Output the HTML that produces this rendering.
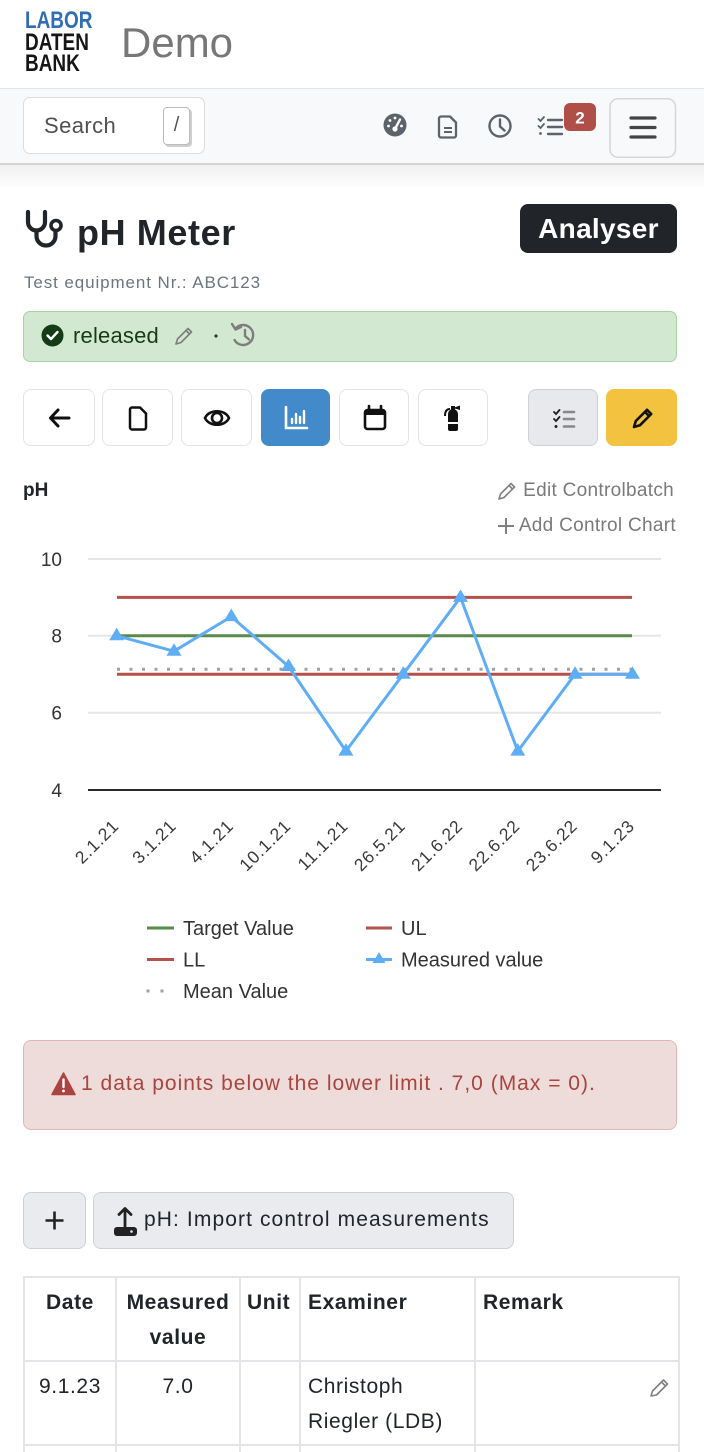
<!DOCTYPE html>
<html><head><meta charset="utf-8">
<style>
*{box-sizing:border-box;margin:0;padding:0}
html,body{width:704px;height:1452px;overflow:hidden;background:#fff;font-family:"Liberation Sans",Arial,sans-serif;color:#212529}
#wrap{position:relative;width:704px;height:1452px;overflow:hidden}
.a{position:absolute;white-space:nowrap}
.btn{position:absolute;top:389px;height:57px;border:1.5px solid #e2e3e5;border-radius:8px;background:#fff}
.btn svg{position:absolute;left:0;top:0}
td{border:2px solid #e3e5e8;vertical-align:top;font-size:21px;line-height:34.5px;padding:8px 7px 0 7px;letter-spacing:0.6px}
</style></head><body><div id="wrap">

<!-- header -->
<div class="a" style="left:25px;top:10px;font-weight:bold;font-size:24px;line-height:21.5px;transform:scaleX(0.79);transform-origin:0 0;">
<div style="color:#2f6db5">LABOR</div><div style="color:#161616">DATEN</div><div style="color:#161616">BANK</div></div>
<div class="a" style="left:121px;top:22px;font-size:42px;line-height:42px;color:#777">Demo</div>

<!-- navbar -->
<div class="a" style="left:0;top:88px;width:704px;height:77px;background:#f8f9fa;border-top:1px solid #e4e4e4;border-bottom:2px solid #d4d4d4"></div>
<div class="a" style="left:0;top:165px;width:704px;height:24px;background:linear-gradient(rgba(0,0,0,0.06),rgba(0,0,0,0))"></div>
<div class="a" style="left:23px;top:97px;width:182px;height:57px;background:#fff;border:1.5px solid #dcdcdc;border-radius:7px"></div>
<div class="a" style="left:44px;top:111px;font-size:22px;line-height:29px;color:#505050;letter-spacing:0.4px">Search</div>
<div class="a" style="left:163px;top:107px;width:27px;height:38px;border:1.5px solid #bdbdbd;border-radius:4px;box-shadow:2px 2px 0 #cfcfcf;background:#fff;font-size:20px;line-height:35px;text-align:center;color:#555">/</div>

<svg class="a" style="left:0;top:0" width="704" height="170" viewBox="0 0 704 170">
 <circle cx="395" cy="125" r="11.5" fill="#5c636b"/>
 <circle cx="395" cy="129" r="2.6" fill="#fff"/>
 <line x1="395" y1="129" x2="400" y2="119.5" stroke="#fff" stroke-width="2.4" stroke-linecap="round"/>
 <circle cx="388.5" cy="126" r="1.4" fill="#fff"/><circle cx="390" cy="120.5" r="1.4" fill="#fff"/><circle cx="395" cy="118" r="1.4" fill="#fff"/><circle cx="401.5" cy="126" r="1.4" fill="#fff"/>
 <path d="M441 116.5 h9 l6 6 v13 a2 2 0 0 1 -2 2 h-13 a2 2 0 0 1 -2 -2 v-17 a2 2 0 0 1 2 -2z" fill="none" stroke="#5c636b" stroke-width="2.3" stroke-linejoin="round"/>
 <line x1="444" y1="128" x2="452" y2="128" stroke="#5c636b" stroke-width="2"/><line x1="444" y1="132" x2="452" y2="132" stroke="#5c636b" stroke-width="2"/>
 <circle cx="500" cy="126" r="10.5" fill="none" stroke="#5c636b" stroke-width="2.4"/>
 <path d="M500 119.5 V126.5 L504.5 130.5" fill="none" stroke="#5c636b" stroke-width="2.4" stroke-linecap="round"/>
 <path d="M538.5 119 l2 2 l3.5 -4 M538.5 126 l2 2 l3.5 -4" fill="none" stroke="#5c636b" stroke-width="1.8" stroke-linecap="round"/>
 <circle cx="540.5" cy="133.5" r="1.4" fill="#5c636b"/>
 <path d="M548 120 H562 M548 127 H562 M548 134 H562" stroke="#5c636b" stroke-width="2.4" stroke-linecap="round"/>
 <rect x="564" y="103" width="32" height="28" rx="6" fill="#b04f48"/>
 <text x="580" y="123.5" font-size="17" font-weight="bold" fill="#fff" text-anchor="middle" font-family="Liberation Sans">2</text>
 <rect x="610" y="98.75" width="65.5" height="58.5" rx="8" fill="#f8f9fa" stroke="#d6d6d6" stroke-width="1.5"/>
 <path d="M631 118 H655 M631 127.5 H655 M631 137 H655" stroke="#444" stroke-width="3.2" stroke-linecap="round"/>
</svg>

<!-- title -->
<svg class="a" style="left:0;top:200px" width="80" height="60" viewBox="0 200 80 60">
 <path d="M28 212 V222 a8.5 8.5 0 0 0 17 0 V212" fill="none" stroke="#212529" stroke-width="4.2" stroke-linecap="round"/>
 <path d="M36.5 231 V236 a9.5 9.5 0 0 0 19 0 V232" fill="none" stroke="#212529" stroke-width="4.2" stroke-linecap="round"/>
 <circle cx="56" cy="225.5" r="5" fill="none" stroke="#212529" stroke-width="3.6"/>
</svg>
<div class="a" style="left:77px;top:215px;font-size:36px;line-height:36px;font-weight:bold;letter-spacing:0.6px;color:#212529">pH Meter</div>
<div class="a" style="left:520px;top:204px;width:157px;height:49px;background:#212529;border-radius:8px;color:#fff;font-weight:bold;font-size:28px;line-height:49px;text-align:center;letter-spacing:0.3px">Analyser</div>
<div class="a" style="left:24px;top:271px;font-size:17px;line-height:24px;color:#6c757d;letter-spacing:0.9px">Test equipment Nr.: ABC123</div>

<!-- released -->
<div class="a" style="left:23px;top:311px;width:654px;height:51px;background:#d3e8d0;border:1.5px solid #a8d2a2;border-radius:7px"></div>
<svg class="a" style="left:0;top:315px" width="280" height="42" viewBox="0 315 280 42">
 <circle cx="52.5" cy="335.5" r="11" fill="#143d17"/>
 <path d="M47.5 335.5 l3.5 3.5 l6.5 -7" fill="none" stroke="#fff" stroke-width="2.4" stroke-linecap="round" stroke-linejoin="round"/>
 <g transform="translate(175,327)" fill="none" stroke="#7d7d7d" stroke-width="1.6" stroke-linejoin="round"><path d="M1 17 L2.5 12 L13 1.5 L16.5 5 L6 15.5 Z M11 3.5 L14.5 7"/></g>
 <circle cx="216" cy="336" r="1.6" fill="#333"/>
 <path d="M236 328 A10 10 0 1 1 234.5 340" fill="none" stroke="#7d7d7d" stroke-width="2.4" stroke-linecap="round"/>
 <path d="M232 324 L235.5 329.5 L241 327" fill="none" stroke="#7d7d7d" stroke-width="2.4" stroke-linecap="round" stroke-linejoin="round"/>
 <path d="M245 330 V336 L249 339.5" fill="none" stroke="#7d7d7d" stroke-width="2.4" stroke-linecap="round"/>
</svg>
<div class="a" style="left:73px;top:322px;font-size:22px;line-height:28px;color:#173b19;letter-spacing:0.2px">released</div>

<!-- button row -->
<div class="btn" style="left:23px;width:72px"><svg width="72" height="57"><path d="M27 28 H45 M34 20 L26.5 28 L34 36" fill="none" stroke="#111" stroke-width="3" stroke-linecap="round" stroke-linejoin="round"/></svg></div>
<div class="btn" style="left:102px;width:71px"><svg width="71" height="57"><path d="M29 17.5 h8 l6 6 v14 a2 2 0 0 1 -2 2 h-12 a2 2 0 0 1 -2 -2 v-18 a2 2 0 0 1 2 -2z" fill="none" stroke="#111" stroke-width="2.5" stroke-linejoin="round"/></svg></div>
<div class="btn" style="left:181px;width:71px"><svg width="71" height="57"><path d="M23 28 C27 19 43 19 47 28 C43 37 27 37 23 28Z" fill="none" stroke="#111" stroke-width="2.6"/><circle cx="35" cy="28" r="5" fill="none" stroke="#111" stroke-width="2.6"/></svg></div>
<div class="btn" style="left:261px;width:69px;background:#428ac9;border-color:#428ac9"><svg width="69" height="57"><path d="M24 17 V38 H45" fill="none" stroke="#fff" stroke-width="2.6" stroke-linecap="round"/><path d="M30 33 V29 M34 33 V24 M38 33 V27 M42 33 V21" stroke="#fff" stroke-width="2.4" stroke-linecap="round"/></svg></div>
<div class="btn" style="left:339px;width:70px"><svg width="70" height="57"><rect x="25" y="20" width="20" height="19" rx="2.5" fill="none" stroke="#111" stroke-width="2.6"/><rect x="25" y="20" width="20" height="5" fill="#111"/><path d="M29 16 V21 M41 16 V21" stroke="#111" stroke-width="2.6" stroke-linecap="round"/></svg></div>
<div class="btn" style="left:418px;width:70px"><svg width="70" height="57"><path d="M29 24 a5 5 0 0 1 10 0 V39 a2 2 0 0 1 -2 2 h-6 a2 2 0 0 1 -2 -2Z" fill="#111"/><rect x="32" y="16" width="4" height="4" fill="#111"/><path d="M34 18 L41 15.5 V20 L34 18" fill="#111"/><path d="M31 19 C27 19 26 22 26 26" fill="none" stroke="#111" stroke-width="2"/><rect x="28" y="32" width="12" height="2" fill="#fff"/></svg></div>
<div class="btn" style="left:528px;width:70px;background:#e8e9ec;border-color:#cfd1d4"><svg width="70" height="57"><path d="M25 22 l2 2 l3.5 -4 M25 29 l2 2 l3.5 -4" fill="none" stroke="#222" stroke-width="1.9" stroke-linecap="round"/><circle cx="27" cy="36.5" r="1.5" fill="#222"/><path d="M35 22 H45 M35 29 H45 M35 36.5 H45" stroke="#888" stroke-width="2.6" stroke-linecap="round"/></svg></div>
<div class="btn" style="left:606px;width:71px;background:#f3c23e;border-color:#f3c23e"><svg width="71" height="57"><g transform="translate(26,18)" fill="none" stroke="#111" stroke-width="2.6" stroke-linejoin="round"><path d="M1 19 L2.8 13 L14 1.8 L18.2 6 L7 17.2 Z M12 4 L16 8"/></g></svg></div>

<!-- chart header -->
<div class="a" style="left:23px;top:478px;font-size:19px;line-height:26px;font-weight:bold;color:#212529">pH</div>
<svg class="a" style="left:494px;top:478px" width="30" height="60" viewBox="494 478 30 60">
 <g transform="translate(498,482)" fill="none" stroke="#808080" stroke-width="1.6" stroke-linejoin="round"><path d="M1 17 L2.5 12 L13 1.5 L16.5 5 L6 15.5 Z M11 3.5 L14.5 7"/></g>
 <path d="M506 518 V534 M498 526 H514" stroke="#808080" stroke-width="2" />
</svg>
<div class="a" style="left:521px;top:478px;width:153px;text-align:right;font-size:19px;line-height:26px;color:#7a7a7a;letter-spacing:0.3px">Edit Controlbatch</div>
<div class="a" style="left:516px;top:513px;width:160px;text-align:right;font-size:19px;line-height:26px;color:#7a7a7a;letter-spacing:0.3px">Add Control Chart</div>

<!-- chart -->
<svg class="a" style="left:0;top:540px" width="704" height="470" viewBox="0 540 704 470" font-family="Liberation Sans, Arial, sans-serif">
 <g stroke="#e6e6e6" stroke-width="2">
  <line x1="88" y1="559" x2="661" y2="559"/>
  <line x1="88" y1="635.8" x2="661" y2="635.8"/>
  <line x1="88" y1="712.7" x2="661" y2="712.7"/>
 </g>
 <line x1="88" y1="790" x2="661" y2="790" stroke="#2a2a2a" stroke-width="2"/>
 <g font-size="19" fill="#333" text-anchor="end">
  <text x="62" y="566">10</text><text x="62" y="642.6">8</text><text x="62" y="719.5">6</text><text x="62" y="797">4</text>
 </g>
 <line x1="117" y1="635.8" x2="632" y2="635.8" stroke="#5a8a49" stroke-width="3"/>
 <line x1="117" y1="597.4" x2="632" y2="597.4" stroke="#b3514a" stroke-width="3"/>
 <line x1="117" y1="674.2" x2="632" y2="674.2" stroke="#b3514a" stroke-width="3"/>
 <line x1="117" y1="669.2" x2="632" y2="669.2" stroke="#a0a0a0" stroke-width="3" stroke-dasharray="3 9.5"/>
 <polyline fill="none" stroke="#5eadf6" stroke-width="3" stroke-linejoin="round" points="116.7,635.8 174,651.2 231.3,616.6 288.6,666.5 345.9,751.1 403.2,674.2 460.5,597.4 517.8,751.1 575.1,674.2 632.4,674.2"/>
 <g fill="#5eadf6">
  <path d="M116.7 627.8 l7.5 12.5 h-15z"/>
  <path d="M174 643.2 l7.5 12.5 h-15z"/>
  <path d="M231.3 608.6 l7.5 12.5 h-15z"/>
  <path d="M288.6 658.5 l7.5 12.5 h-15z"/>
  <path d="M345.9 743.1 l7.5 12.5 h-15z"/>
  <path d="M403.2 666.2 l7.5 12.5 h-15z"/>
  <path d="M460.5 589.4 l7.5 12.5 h-15z"/>
  <path d="M517.8 743.1 l7.5 12.5 h-15z"/>
  <path d="M575.1 666.2 l7.5 12.5 h-15z"/>
  <path d="M632.4 666.2 l7.5 12.5 h-15z"/>
 </g>
 <g font-size="17.5" fill="#3a3a3a" text-anchor="end" letter-spacing="0.8">
  <text transform="translate(120,827) rotate(-45)">2.1.21</text>
  <text transform="translate(177.3,827) rotate(-45)">3.1.21</text>
  <text transform="translate(234.6,827) rotate(-45)">4.1.21</text>
  <text transform="translate(291.9,827) rotate(-45)">10.1.21</text>
  <text transform="translate(349.2,827) rotate(-45)">11.1.21</text>
  <text transform="translate(406.5,827) rotate(-45)">26.5.21</text>
  <text transform="translate(463.8,827) rotate(-45)">21.6.22</text>
  <text transform="translate(521.1,827) rotate(-45)">22.6.22</text>
  <text transform="translate(578.4,827) rotate(-45)">23.6.22</text>
  <text transform="translate(635.7,827) rotate(-45)">9.1.23</text>
 </g>
 <line x1="147" y1="928" x2="174" y2="928" stroke="#5a8a49" stroke-width="3"/>
 <line x1="147" y1="959.5" x2="174" y2="959.5" stroke="#b3514a" stroke-width="3"/>
 <rect x="146.5" y="989.5" width="3" height="3" fill="#a0a0a0"/><rect x="160.5" y="989.5" width="3" height="3" fill="#a0a0a0"/>
 <line x1="366" y1="928" x2="392" y2="928" stroke="#b3514a" stroke-width="3"/>
 <line x1="366" y1="959.5" x2="392" y2="959.5" stroke="#5eadf6" stroke-width="3"/>
 <path d="M379 952 l6.5 11 h-13z" fill="#5eadf6"/>
 <g font-size="20" fill="#333">
  <text x="183" y="935">Target Value</text>
  <text x="183" y="966.5">LL</text>
  <text x="183" y="998">Mean Value</text>
  <text x="401" y="935">UL</text>
  <text x="401" y="966.5">Measured value</text>
 </g>
</svg>

<!-- red alert -->
<div class="a" style="left:23px;top:1040px;width:654px;height:90px;background:#eedcdb;border:1.5px solid #e3b6b3;border-radius:8px"></div>
<svg class="a" style="left:50px;top:1070px" width="28" height="28" viewBox="50 1070 28 28">
 <path d="M63.5 1073 L75 1094.5 H52 Z" fill="#a9443e" stroke="#a9443e" stroke-width="1.5" stroke-linejoin="round"/>
 <path d="M63.5 1079.5 V1087" stroke="#fff" stroke-width="2.4" stroke-linecap="round"/><circle cx="63.5" cy="1091" r="1.4" fill="#fff"/>
</svg>
<div class="a" style="left:81px;top:1070px;font-size:21px;line-height:28px;color:#a9443e;letter-spacing:1px">1 data points below the lower limit . 7,0 (Max = 0).</div>

<!-- action buttons -->
<div class="a" style="left:23px;top:1192px;width:63px;height:57px;background:#e9ebee;border:1.5px solid #cdd0d4;border-radius:8px"></div>
<svg class="a" style="left:23px;top:1192px" width="63" height="57"><path d="M31.5 19.5 V37.5 M22.5 28.5 H40.5" stroke="#222" stroke-width="2.6"/></svg>
<div class="a" style="left:93px;top:1192px;width:421px;height:57px;background:#e9ebee;border:1.5px solid #cdd0d4;border-radius:8px"></div>
<svg class="a" style="left:110px;top:1200px" width="32" height="40" viewBox="110 1200 32 40">
 <path d="M125 1227 V1209 M119 1214.5 L125 1208.5 L131 1214.5" fill="none" stroke="#222" stroke-width="2.8" stroke-linecap="round" stroke-linejoin="round"/>
 <rect x="114" y="1227" width="23" height="9" rx="3" fill="#222"/>
 <circle cx="131.5" cy="1231.5" r="1.3" fill="#e9ebee"/>
</svg>
<div class="a" style="left:144px;top:1206px;font-size:21px;line-height:28px;color:#212529;letter-spacing:1.1px">pH: Import control measurements</div>

<!-- table -->
<table class="a" style="left:23px;top:1276px;width:655px;border-collapse:collapse;table-layout:fixed">
<colgroup><col style="width:92px"><col style="width:124px"><col style="width:60px"><col style="width:175px"><col style="width:204px"></colgroup>
<tr style="height:84px;font-weight:bold">
 <td style="text-align:center;font-weight:bold">Date</td>
 <td style="text-align:center;font-weight:bold;padding-left:0;padding-right:0">Measured<br>value</td>
 <td style="font-weight:bold;padding-left:6px;padding-right:0">Unit</td>
 <td style="font-weight:bold">Examiner</td>
 <td style="font-weight:bold">Remark</td>
</tr>
<tr style="height:84px">
 <td style="text-align:center;padding-left:0;padding-right:0">9.1.23</td>
 <td style="text-align:center">7.0</td>
 <td></td>
 <td>Christoph<br>Riegler (LDB)</td>
 <td style="position:relative"><svg style="position:absolute;right:8px;top:16px" width="20" height="20"><g fill="none" stroke="#808080" stroke-width="1.6" stroke-linejoin="round"><path d="M1 18 L2.5 13 L13.5 2 L17.5 6 L6.5 17 Z M11.5 4 L15.5 8"/></g></svg></td>
</tr>
<tr style="height:40px"><td></td><td></td><td></td><td></td><td></td></tr>
</table>

</div></body></html>
